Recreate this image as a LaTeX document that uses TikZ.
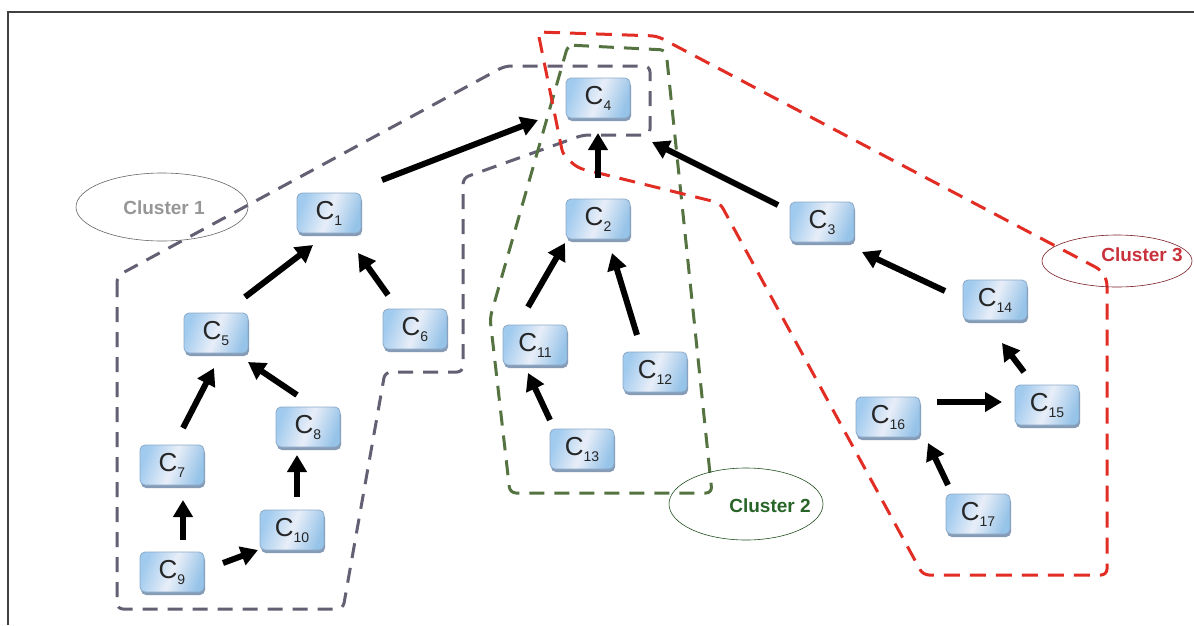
\documentclass[tikz,border=0pt]{standalone}
\usepackage{fontspec}
\setmainfont{Liberation Sans}
\usetikzlibrary{arrows.meta,shapes.geometric,shadows}
\definecolor{c1col}{RGB}{100,95,115}
\definecolor{c2col}{RGB}{85,115,65}
\definecolor{c3col}{RGB}{225,45,35}
\definecolor{boxtop}{RGB}{160,202,238}
\definecolor{boxmid}{RGB}{232,238,248}
\definecolor{boxbot}{RGB}{150,195,232}
\definecolor{boxline}{RGB}{140,170,200}
\definecolor{shadowcol}{RGB}{120,145,175}
\definecolor{t1col}{RGB}{150,150,150}
\definecolor{t2col}{RGB}{40,100,40}
\definecolor{t3col}{RGB}{200,50,60}
\newcommand\cname[1]{C\raisebox{-6pt}{\fontsize{14}{14}\selectfont #1}}
\begin{document}
\begin{tikzpicture}[x=1pt,y=-1pt,
 cbox/.style={rectangle, rounded corners=5pt, minimum width=64pt, minimum height=40pt, inner sep=0pt,
   draw=boxline, line width=0.8pt, left color=boxtop, right color=boxbot, middle color=boxmid, shading angle=70,
   drop shadow={shadow xshift=1pt, shadow yshift=-3pt, fill=shadowcol, opacity=0.9},
   font=\fontsize{26}{26}\selectfont, text=black!85},
 arr/.style={line width=6pt, -{Triangle[length=17pt,width=19pt]}},
 clu/.style={line width=3pt, dash pattern=on 15pt off 10pt, rounded corners=6pt},
 cel/.style={ellipse, draw, line width=0.6pt, inner sep=0pt},
 ctext/.style={font=\fontsize{19}{19}\selectfont\bfseries}
]
\useasboundingbox (0,0) rectangle (1194,625);
\fill[white] (0,0) rectangle (1194,625);
\draw[line width=2pt, black!75] (8,625) -- (8,12) -- (1194,12);

% clusters
\draw[clu, c1col] (117,276) -- (117,609) -- (343,609) -- (385,372) -- (463,372) -- (463,178) -- (583,135) -- (650,135) -- (650,66) -- (505,66) -- cycle;
\draw[clu, c2col] (568,45) -- (666,50) -- (712,493) -- (510,493) -- (490,318) -- cycle;
\draw[clu, c3col, dash pattern=on 16pt off 10pt] (538,32) -- (657,36) -- (1101,270) -- (1107,280) -- (1107,575) -- (923,575) -- (720,203) -- (578,168) -- (563,155) -- cycle;

% labels
\node[cel, draw=black!60, minimum width=172pt, minimum height=68pt] (E1) at (162,207) {};
\node[ctext, text=t1col] (T1) at (164,208) {Cluster 1};
\node[cel, draw=t2col!80!black, minimum width=154pt, minimum height=72pt] (E2) at (746,504) {};
\node[ctext, text=t2col] (T2) at (770,506) {Cluster 2};
\node[cel, draw=t3col!60!black, minimum width=150pt, minimum height=52pt] (E3) at (1117,261) {};
\node[ctext, text=t3col] (T3) at (1142,255) {Cluster 3};

% nodes
\node[cbox] (C4) at (598,98) {\cname{4}};
\node[cbox] (C1) at (329,213) {\cname{1}};
\node[cbox] (C2) at (598,219) {\cname{2}};
\node[cbox] (C3) at (822,222) {\cname{3}};
\node[cbox] (C5) at (216,333) {\cname{5}};
\node[cbox] (C6) at (415,329) {\cname{6}};
\node[cbox] (C11) at (535,345) {\cname{11}};
\node[cbox] (C12) at (655,372) {\cname{12}};
\node[cbox] (C14) at (995,300) {\cname{14}};
\node[cbox] (C7) at (172,465) {\cname{7}};
\node[cbox] (C8) at (308,427) {\cname{8}};
\node[cbox] (C13) at (582,449) {\cname{13}};
\node[cbox] (C16) at (888,417) {\cname{16}};
\node[cbox] (C15) at (1047,405) {\cname{15}};
\node[cbox] (C10) at (292,530) {\cname{10}};
\node[cbox] (C9) at (172,572) {\cname{9}};
\node[cbox] (C17) at (978,514) {\cname{17}};

% arrows
\draw[arr] ([shift={(53,-33)}]C1.center) -- ([shift={(-60,22)}]C4.center);
\draw[arr] ([shift={(0,-41)}]C2.center) -- ([shift={(0,35)}]C4.center);
\draw[arr] ([shift={(-44,-17)}]C3.center) -- ([shift={(54,44)}]C4.center);
\draw[arr] ([shift={(29,-36)}]C5.center) -- ([shift={(-16,32)}]C1.center);
\draw[arr] ([shift={(-27,-34)}]C6.center) -- ([shift={(29,40)}]C1.center);
\draw[arr] ([shift={(11,-37)}]C7.center) -- ([shift={(-2,35)}]C5.center);
\draw[arr] ([shift={(-11,-32)}]C8.center) -- ([shift={(32,29)}]C5.center);
\draw[arr] ([shift={(11,-32)}]C9.center) -- ([shift={(11,35)}]C7.center);
\draw[arr] ([shift={(51,-9)}]C9.center) -- ([shift={(-34,20)}]C10.center);
\draw[arr] ([shift={(5,-33)}]C10.center) -- ([shift={(-11,28)}]C8.center);
\draw[arr] ([shift={(-7,-38)}]C11.center) -- ([shift={(-33,24)}]C2.center);
\draw[arr] ([shift={(-18,-37)}]C12.center) -- ([shift={(14,34)}]C2.center);
\draw[arr] ([shift={(-32,-29)}]C13.center) -- ([shift={(-7,28)}]C11.center);
\draw[arr] ([shift={(-50,-9)}]C14.center) -- ([shift={(40,30)}]C3.center);
\draw[arr] ([shift={(-23,-33)}]C15.center) -- ([shift={(7,43)}]C14.center);
\draw[arr] ([shift={(49,-15)}]C16.center) -- ([shift={(-45,-3)}]C15.center);
\draw[arr] ([shift={(-30,-29)}]C17.center) -- ([shift={(40,26)}]C16.center);
\end{tikzpicture}
\end{document}
